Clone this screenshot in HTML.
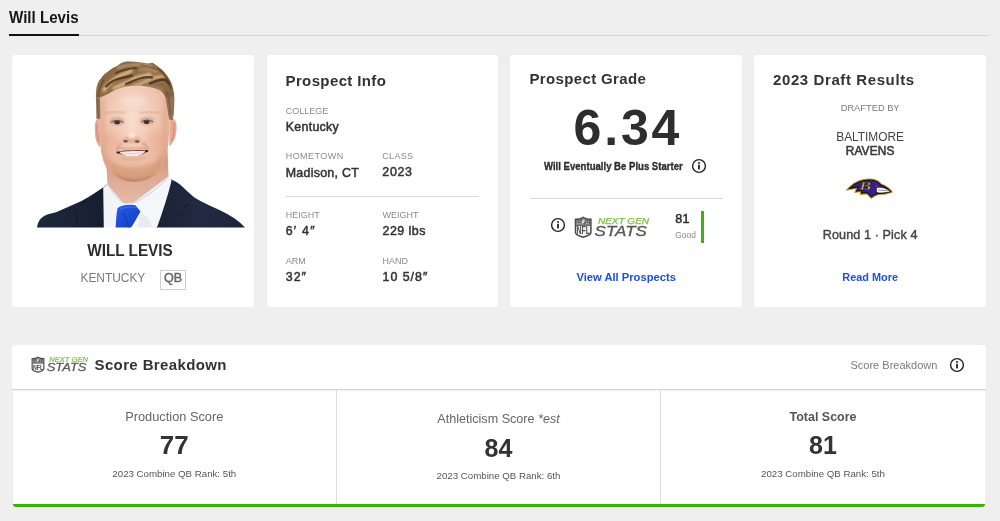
<!DOCTYPE html>
<html><head><meta charset="utf-8">
<style>
*{margin:0;padding:0;box-sizing:border-box}
html,body{width:1000px;height:521px;overflow:hidden}
body{background:#efefef;font-family:"Liberation Sans",Arial,sans-serif;color:#333;position:relative}
.a{position:absolute;white-space:nowrap;line-height:1}
.card{position:absolute;background:#fff;border-radius:3px}
.b{font-weight:bold}
.lbl{font-size:9px;color:#8a8a8a;letter-spacing:0}
.val{font-size:12.4px;font-weight:normal;color:#333;-webkit-text-stroke:.5px #333;letter-spacing:.3px}
.ttl{font-size:15px;font-weight:bold;color:#333;letter-spacing:.3px}
.blue{color:#1f4fdc;font-weight:bold;font-size:11px}
.c{text-align:center}
</style></head><body><div id="wrap" style="position:absolute;left:0;top:0;width:1000px;height:521px;filter:blur(0.3px)">

<!-- header -->
<div class="a b" id="t-title" style="left:9.3px;top:9.1px;font-size:17px;color:#161616;transform:scaleX(0.89);transform-origin:0 0">Will Levis</div>
<div class="a" style="left:9.2px;top:35px;width:980px;height:1px;background:#d2d2d2"></div>
<div class="a" style="left:9.2px;top:33.7px;width:70px;height:2px;background:#121212"></div>

<!-- card 1 -->
<div class="card" style="left:12.3px;top:55px;width:241.8px;height:252px"></div>
<div class="a b" id="t-name" style="left:-2.6px;top:242.2px;width:266px;text-align:center;font-size:16.2px;color:#2e2e2e;transform:scaleX(0.945)">WILL LEVIS</div>
<div class="a" id="t-ky" style="left:80.5px;top:273px;font-size:11.9px;color:#7a7a7a">KENTUCKY</div>
<div class="a" style="left:160px;top:269.5px;width:26px;height:20px;border:1px solid #cfcfcf"></div>
<div class="a b" id="t-qb" style="left:160px;top:272.4px;width:26px;text-align:center;font-size:12.6px;color:#666;font-weight:normal;-webkit-text-stroke:.45px #666">QB</div>


<!-- photo -->
<svg class="a" style="left:0;top:0" width="266" height="240" viewBox="0 0 266 240">
<defs>
<filter id="b04" x="-20%" y="-20%" width="140%" height="140%"><feGaussianBlur stdDeviation="0.4"/></filter>
<filter id="b08" x="-30%" y="-30%" width="160%" height="160%"><feGaussianBlur stdDeviation="0.8"/></filter>
<filter id="b2" x="-50%" y="-50%" width="200%" height="200%"><feGaussianBlur stdDeviation="2.2"/></filter>
<filter id="b4" x="-50%" y="-50%" width="200%" height="200%"><feGaussianBlur stdDeviation="4"/></filter>
<linearGradient id="gsuitL" x1="0" y1="0" x2="1" y2="0">
<stop offset="0" stop-color="#20283d"/><stop offset="1" stop-color="#161d2f"/></linearGradient>
<linearGradient id="gsuitR" x1="0" y1="0" x2="1" y2="0">
<stop offset="0" stop-color="#1a2236"/><stop offset="0.5" stop-color="#212a42"/><stop offset="1" stop-color="#1d253b"/></linearGradient>
<radialGradient id="gface" cx="0.48" cy="0.33" r="0.65">
<stop offset="0" stop-color="#f8dccd"/><stop offset="0.45" stop-color="#f2cbb7"/><stop offset="0.8" stop-color="#ebb9a0"/><stop offset="1" stop-color="#e0a78c"/></radialGradient>
<linearGradient id="ghair" x1="0" y1="0" x2="0.3" y2="1">
<stop offset="0" stop-color="#82603f"/><stop offset="0.45" stop-color="#93704b"/><stop offset="1" stop-color="#7a5a3b"/></linearGradient>
<linearGradient id="gneck" x1="0" y1="0" x2="0" y2="1">
<stop offset="0" stop-color="#c99078"/><stop offset="0.5" stop-color="#dea993"/><stop offset="1" stop-color="#e8baa5"/></linearGradient>
<linearGradient id="gtie" x1="0" y1="0" x2="1" y2="1">
<stop offset="0" stop-color="#2a5fe8"/><stop offset="0.5" stop-color="#1b4cd6"/><stop offset="1" stop-color="#1440b8"/></linearGradient>
<clipPath id="cface"><path d="M99,95 C98.8,110 99.5,135 101,150 C102.5,160 105.5,168 110.5,173.5 C116.5,179.2 125,182 133,182 C142,182 151,179 157,174 C162,169 165,161.5 167,153 C169.5,138 170.3,115 168,95 C160,86 146,84 133,84 C118,84 106,87 99,95 Z"/></clipPath>
<clipPath id="chair"><path d="M96.3,104 C95.5,95 96,88 97.2,85 C98.5,81 100,79 100.8,78.7 C103,75 105,73.5 108,71.5 C111,69 114,67.5 117,66.1 C120,64 122,62.5 124.2,62.1 C126.5,61.6 128.5,61.5 130.5,61.6 C136,61.8 142,62.5 147.6,63.4 L153,62.8 C155,64.5 157,65.5 158.4,67 C160.5,68.5 162.5,70 163.8,71.5 C166,74 167.8,76.5 169.2,78.7 C171,81.5 172.2,84.5 172.8,87.7 C173.6,91 174.2,93.5 174.2,95.8 C174.5,104 174,112 172.8,120 L169.3,119.6 C168,112 167.2,106 166.5,103 C166,99 165.5,97.5 164.7,95.8 C163.5,93 162,91.5 160.2,90.4 C157.5,89 155.5,88.2 153,87.7 C150,86.8 147,86.1 144,85.9 C141,85.6 138,85.5 135,85.5 C132,85.6 129,85.9 126,86.4 C123,87 120,87.8 117,89 C114,90.5 111,92 108,94 C105,95.5 102,96.5 100,97.6 L100.2,118.8 L96.6,118.8 Z"/></clipPath>
</defs>
<!-- suit -->
<path d="M37,227.5 C38,221 41,216.5 48,214.2 L56,212.3 L81.5,201 C92,195 100,190 107.2,184.2 L108.5,187 L104,227.5 Z" fill="url(#gsuitL)"/>
<path d="M170.3,179 C174,180.5 177.5,182.5 180,184.6 C185,189 189,193 194,197.2 C203,203 213,207 222,211.2 C231,215.5 239,221 245,227.5 L156.2,227.5 C160,215 166,197 170.3,179 Z" fill="url(#gsuitR)"/>
<path d="M81,204 L86,201.5" stroke="#0e1320" stroke-width="1" opacity="0.8"/>
<path d="M184,207 L189,204.5" stroke="#0e1320" stroke-width="1" opacity="0.8"/>
<path d="M76.5,213 L77,227" stroke="#0f1422" stroke-width="1" opacity="0.6"/>
<path d="M178,218 L185,213" stroke="#0f1422" stroke-width="0.8" opacity="0.6"/>
<!-- neck -->
<path d="M106,158 L107.5,185 L124,203.8 L133.4,203 L168.5,177.5 L167.5,150 Z" fill="url(#gneck)"/>
<!-- shirt -->
<path d="M103.2,187.5 L107.5,184.2 C112,191 118,198 124,203.8 L118.5,209.5 L116,227.5 L103.8,227.5 Z" fill="#f3f4f8"/>
<path d="M107.5,185.5 C112,192 117,198 123,203.5" stroke="#d9dbe4" stroke-width="1.2" fill="none"/>
<path d="M168.2,176.5 L171.6,180.5 C168,195 163,211 157,227.5 L131,227.5 L139.5,212.5 L133.4,203 Z" fill="#f5f6fa"/>
<path d="M167.5,178 C158,188 146,197 134,203" stroke="#dadce6" stroke-width="1.2" fill="none"/>
<path d="M140,213 C145,214 150,219 152,227.5 L138,227.5 Z" fill="#e3e5ee" opacity="0.7"/>
<!-- tie -->
<path d="M117.5,208.2 C121,205.5 127,204 135.3,205.3 L140.5,211.5 C137,218 134,223 131.2,227.5 L115.6,227.5 C116,220 116.5,213 117.5,208.2 Z" fill="url(#gtie)"/>
<path d="M120,209 C125,207 131,206.5 136,207.5" stroke="#4a7cf5" stroke-width="1" fill="none" opacity="0.7"/>
<path d="M123,212 L129,227.5" stroke="#1236a0" stroke-width="1.2" opacity="0.6"/>
<!-- ears -->
<path d="M99.5,119 C96,118 94.5,122 94.8,130 C95,138 96.5,145 100.5,147.5 Z" fill="#e6ab92"/>
<path d="M169.5,119 C173.5,117.5 176.8,120 176.6,128 C176.4,136 174,143 169.2,146.5 Z" fill="#e6ab92"/>
<path d="M97,124 C96.5,130 97,137 99,142" stroke="#c98a72" stroke-width="1" fill="none" filter="url(#b04)"/>
<path d="M174,123 C174.5,129 174,136 171.5,141" stroke="#c98a72" stroke-width="1" fill="none" filter="url(#b04)"/>
<!-- face -->
<path d="M99,95 C98.8,110 99.5,135 101,150 C102.5,160 105.5,168 110.5,173.5 C116.5,179.2 125,182 133,182 C142,182 151,179 157,174 C162,169 165,161.5 167,153 C169.5,138 170.3,115 168,95 C160,86 146,84 133,84 C118,84 106,87 99,95 Z" fill="url(#gface)"/>
<g clip-path="url(#cface)">
<!-- cheeks warm -->
<ellipse cx="110" cy="141" rx="10" ry="10" fill="#e8a28a" opacity="0.45" filter="url(#b4)"/>
<ellipse cx="157" cy="140" rx="10" ry="10" fill="#e8a28a" opacity="0.45" filter="url(#b4)"/>
<!-- side shading -->
<path d="M99,100 L104,100 L106,150 L112,172 L100,165 Z" fill="#dca08a" opacity="0.5" filter="url(#b2)"/>
<path d="M168,100 L163,100 L161,150 L156,172 L168,160 Z" fill="#dca08a" opacity="0.5" filter="url(#b2)"/>
<!-- stubble -->
<path d="M103,150 C106,162 112,171 120,177 C125,180.5 129,182 133,182 C140,182 148,179 155,174.5 C161,169 164,161 166,151 C161,159 156,163 150,165.5 C145,167 140,167.5 133,167.5 C126,167.5 120,166.5 114,164 C109,161 105,156 103,150 Z" fill="#cf9670" opacity="0.6" filter="url(#b2)"/>
<path d="M112,171 C120,180 128,183 134,183 C142,183 150,179 157,173 C149,177 141,179 134,179 C126,179 119,176 112,171 Z" fill="#b07a58" opacity="0.6" filter="url(#b08)"/>
<!-- forehead highlight -->
<ellipse cx="133" cy="101" rx="14" ry="6" fill="#fbe7dd" opacity="0.45" filter="url(#b2)"/>
<!-- brows -->
<path d="M104.5,113.8 C110,111.4 118,111.2 124.2,112.8" stroke="#d8a68a" stroke-width="2.6" fill="none" stroke-linecap="round" opacity="0.55" filter="url(#b08)"/>
<path d="M140.4,112.8 C147,111.2 154,111.5 160.2,113.4" stroke="#d8a68a" stroke-width="2.6" fill="none" stroke-linecap="round" opacity="0.55" filter="url(#b08)"/>
<!-- eye sockets -->
<ellipse cx="117" cy="121.3" rx="7.5" ry="4" fill="#d29a84" opacity="0.7" filter="url(#b08)"/>
<ellipse cx="147" cy="120.8" rx="7.5" ry="4" fill="#d29a84" opacity="0.7" filter="url(#b08)"/>
<!-- eyes -->
<g filter="url(#b04)">
<path d="M111,122.6 C113,120.6 120,120.2 123.4,122.6 C120,124.3 114,124.4 111,122.6 Z" fill="#b9a6a4"/>
<path d="M141.3,122.2 C144,120.2 150,120.2 153,122 C150,123.8 144.5,124 141.3,122.2 Z" fill="#b9a6a4"/>
<ellipse cx="117.2" cy="122.3" rx="2.8" ry="2.1" fill="#2f3646"/>
<ellipse cx="146.6" cy="121.9" rx="2.8" ry="2.1" fill="#2f3646"/>
<path d="M110.8,122.4 C113,120.2 120,119.8 123.4,122.4" stroke="#6a4a44" stroke-width="1" fill="none"/>
<path d="M141.3,122 C144,119.6 150,119.6 153,121.8" stroke="#6a4a44" stroke-width="1" fill="none"/>
</g>
<!-- nose -->
<ellipse cx="131.8" cy="126" rx="3.2" ry="9" fill="#fbe6dc" opacity="0.45" filter="url(#b2)"/>
<ellipse cx="131.5" cy="139.8" rx="9" ry="3.2" fill="#cf8f74" opacity="0.55" filter="url(#b08)"/>
<ellipse cx="131.6" cy="136" rx="3.6" ry="2.8" fill="#fde9e0" opacity="0.85" filter="url(#b08)"/>
<ellipse cx="125.5" cy="141.2" rx="2.4" ry="1.3" fill="#6e3c30" opacity="0.85" filter="url(#b04)"/>
<ellipse cx="137.3" cy="141.5" rx="2.4" ry="1.3" fill="#6e3c30" opacity="0.85" filter="url(#b04)"/>
<path d="M121,143 C118.5,146 117,149 116.5,152" stroke="#c9886f" stroke-width="1.8" fill="none" opacity="0.7" filter="url(#b08)"/>
<path d="M142.5,142.5 C145.5,145 147.5,148 148.3,151" stroke="#c9886f" stroke-width="1.8" fill="none" opacity="0.7" filter="url(#b08)"/>
<!-- mouth -->
<path d="M119,148.8 C125,147.6 139,147.4 145.5,148.4" stroke="#cf8f80" stroke-width="2.2" fill="none" opacity="0.6" filter="url(#b08)"/>
<g filter="url(#b04)">
<path d="M116.8,152.6 C121,150.3 127,150.1 132,150.2 C138,150 143.5,149.6 147.6,150.8 C145,154.2 140,156.3 132.5,156.4 C125.5,156.4 120.4,155 116.8,152.6 Z" fill="#8a4238"/>
<path d="M119.2,152.3 C124.5,151 138,150.8 145.6,151.2 C142.8,154.6 138.5,156.5 132.5,156.6 C126.8,156.6 122.4,155.2 119.2,152.3 Z" fill="#f3ece8"/>
<path d="M120.5,152.5 C125,154.2 139.5,154.2 144.5,151.6" stroke="#d5c6c2" stroke-width=".7" fill="none"/>
<ellipse cx="118.2" cy="152.5" rx="1.8" ry="1.1" fill="#3e1f1a"/>
<ellipse cx="146.6" cy="151.1" rx="1.8" ry="1.1" fill="#3e1f1a"/>
</g>
<path d="M120.5,157.6 C126,160.2 139,160.2 144.5,157" stroke="#e0a092" stroke-width="2.6" fill="none" opacity="0.6" filter="url(#b08)"/>
</g>
<!-- hair -->
<path d="M96.3,104 C95.5,95 96,88 97.2,85 C98.5,81 100,79 100.8,78.7 C103,75 105,73.5 108,71.5 C111,69 114,67.5 117,66.1 C120,64 122,62.5 124.2,62.1 C126.5,61.6 128.5,61.5 130.5,61.6 C136,61.8 142,62.5 147.6,63.4 L153,62.8 C155,64.5 157,65.5 158.4,67 C160.5,68.5 162.5,70 163.8,71.5 C166,74 167.8,76.5 169.2,78.7 C171,81.5 172.2,84.5 172.8,87.7 C173.6,91 174.2,93.5 174.2,95.8 C174.5,104 174,112 172.8,120 L169.3,119.6 C168,112 167.2,106 166.5,103 C166,99 165.5,97.5 164.7,95.8 C163.5,93 162,91.5 160.2,90.4 C157.5,89 155.5,88.2 153,87.7 C150,86.8 147,86.1 144,85.9 C141,85.6 138,85.5 135,85.5 C132,85.6 129,85.9 126,86.4 C123,87 120,87.8 117,89 C114,90.5 111,92 108,94 C105,95.5 102,96.5 100,97.6 L100.2,118.8 L96.6,118.8 Z" fill="url(#ghair)"/>
<g clip-path="url(#chair)">
<!-- sideburn shading -->
<path d="M95,98 L101,96 L101,120 L95,120 Z" fill="#9a7c5e" opacity="0.8" filter="url(#b08)"/>
<path d="M165,98 L175,96 L175,121 L168,121 Z" fill="#9a7c5e" opacity="0.7" filter="url(#b08)"/>
<!-- hair strands light -->
<g fill="none" stroke-linecap="round" filter="url(#b08)">
<path d="M104,90 C108,84 113,79.5 118,77 C123,74.5 127,73 131,71" stroke="#dbb788" stroke-width="3.6" opacity="0.95"/>
<path d="M114,88 C120,86 126,83 132,80 C138,77 144,75.5 150,74.5" stroke="#dcba8c" stroke-width="3.4" opacity="0.95"/>
<path d="M134,86 C140,84 146,81 152,78.5 C156,77 160,76.5 163,77" stroke="#d6b386" stroke-width="3" opacity="0.9"/>
<path d="M118,68 C124,65.5 131,64.5 138,64.5 C143,64.5 147,65 151,66" stroke="#caa77c" stroke-width="2.6" opacity="0.75"/>
<path d="M140,70 C146,69 152,69.5 157,71.5" stroke="#c9a67c" stroke-width="2.2" opacity="0.7"/>
<path d="M147,86.5 C153,86.5 158,87.5 162,90" stroke="#c4a07a" stroke-width="2" opacity="0.6"/>
</g>
<!-- hair strands dark -->
<g fill="none" stroke-linecap="round" filter="url(#b04)">
<path d="M106,86.5 C110,82 116,79 122,77.8 C126,77 129,76.5 132,75.5" stroke="#4a3019" stroke-width="2.3" opacity="0.85"/>
<path d="M126,84 C131,82 136,79.5 141,78 C145,77 149,77 152,77.5" stroke="#4a3019" stroke-width="2.3" opacity="0.85"/>
<path d="M150,83.5 C154,81.5 158,80 162,79.5 C165,79.5 167.5,81 169,84" stroke="#4a3019" stroke-width="2.4" opacity="0.85"/>
<path d="M116,73 C122,70 129,68.5 136,68" stroke="#4e341d" stroke-width="2" opacity="0.75"/>
<path d="M98.5,96 C99,89 101,84 104,80" stroke="#5a3d24" stroke-width="1.8" opacity="0.6"/>
<path d="M158,68.5 C164,72.5 168.5,79 171,88" stroke="#563a22" stroke-width="2.2" opacity="0.6"/>
<path d="M141,64.8 C146,65.5 151,67 156,69.5" stroke="#5e4129" stroke-width="1.3" opacity="0.5"/>
<path d="M167,92 C169,99 170,106 170.5,114" stroke="#5e4630" stroke-width="1.6" opacity="0.45"/>
<path d="M97.5,100 C97.5,106 98,112 98.5,117" stroke="#5e4630" stroke-width="1.4" opacity="0.45"/>
</g>
</g>
</svg>

<!-- card 2 -->
<div class="card" style="left:267px;top:55px;width:230.5px;height:252px"></div>
<div class="a ttl" id="t-pi" style="left:285.5px;top:72.9px;letter-spacing:.38px">Prospect Info</div>
<div class="a lbl" id="t-col" style="left:285.7px;top:106.5px">COLLEGE</div>
<div class="a val" id="t-ken" style="left:285.7px;top:120.7px">Kentucky</div>
<div class="a lbl" style="left:285.7px;top:152.3px;letter-spacing:.45px">HOMETOWN</div>
<div class="a lbl" style="left:382.3px;top:152.3px;letter-spacing:.3px">CLASS</div>
<div class="a val" id="t-mad" style="left:285.7px;top:166.6px;letter-spacing:.28px">Madison, CT</div>
<div class="a val" style="left:382.3px;top:166.4px;letter-spacing:.7px">2023</div>
<div class="a" style="left:285.7px;top:196px;width:193.5px;height:1px;background:#d8d8d8"></div>
<div class="a lbl" style="left:285.7px;top:211px">HEIGHT</div>
<div class="a lbl" style="left:382.5px;top:211px">WEIGHT</div>
<div class="a val" style="left:285.7px;top:225.2px;letter-spacing:1.25px">6′ 4″</div>
<div class="a val" style="left:382.5px;top:225.2px;letter-spacing:.5px">229 lbs</div>
<div class="a lbl" style="left:285.7px;top:256.5px">ARM</div>
<div class="a lbl" style="left:382.5px;top:256.5px">HAND</div>
<div class="a val" style="left:285.7px;top:270.9px;letter-spacing:1.05px">32″</div>
<div class="a val" style="left:382.5px;top:270.9px;letter-spacing:1px">10 5/8″</div>

<!-- card 3 -->
<div class="card" style="left:510.3px;top:55px;width:231.7px;height:252px"></div>
<div class="a ttl" id="t-pg" style="left:529.5px;top:71.2px;letter-spacing:.36px">Prospect Grade</div>
<div class="a b" id="t-grade" style="left:573.6px;top:102.6px;font-size:50px;color:#2e2e2e;letter-spacing:2.8px">6.34</div>
<svg class="a" style="left:690.8px;top:158.1px" width="16" height="16" viewBox="0 0 16 16">
<circle cx="8" cy="8" r="6.4" fill="none" stroke="#222" stroke-width="1.4"/>
<circle cx="8" cy="5" r="1" fill="#222"/><rect x="7.1" y="6.8" width="1.8" height="4.6" fill="#222"/></svg>
<div class="a b" id="t-wep" style="left:544px;top:161px;font-size:11px;color:#2e2e2e;transform:scaleX(0.87);transform-origin:0 0;-webkit-text-stroke:.35px #2e2e2e">Will Eventually Be Plus Starter</div>
<div class="a" style="left:530px;top:198px;width:193px;height:1px;background:#d8d8d8"></div>
<svg class="a" style="left:549.7px;top:216.9px" width="16" height="16" viewBox="0 0 16 16">
<circle cx="8" cy="8" r="6.4" fill="none" stroke="#222" stroke-width="1.4"/>
<circle cx="8" cy="5" r="1" fill="#222"/><rect x="7.1" y="6.8" width="1.8" height="4.6" fill="#222"/></svg>
<svg class="a" style="left:574.3px;top:215.6px;overflow:visible" width="76.0" height="23.0" viewBox="0 0 76 23">
<path d="M1.5,3.3 Q5,3.6 7.6,2.2 L9.1,1.4 L10.6,2.2 Q13.2,3.6 16.9,3.3 L16.9,16.6 Q16.9,19.2 9.1,21.2 Q1.5,19.2 1.5,16.6 Z" fill="#f2f2f2" stroke="#4a4a4a" stroke-width="1.5"/>
<path d="M2.3,3.9 Q5,4.2 7.6,2.9 L9.1,2.2 L10.6,2.9 Q13.2,4.2 16.1,3.9 L16.1,8.8 L2.3,8.8 Z" fill="#5c5c5c"/>
<g fill="#e8e8e8"><circle cx="3.9" cy="5.3" r=".55"/><circle cx="5.9" cy="5.3" r=".55"/><circle cx="3.9" cy="7.4" r=".55"/><circle cx="5.9" cy="7.4" r=".55"/><circle cx="12.3" cy="5.3" r=".55"/><circle cx="14.3" cy="5.3" r=".55"/><circle cx="12.3" cy="7.4" r=".55"/><circle cx="14.3" cy="7.4" r=".55"/></g>
<ellipse cx="9.1" cy="5.6" rx="1.6" ry="2.7" fill="#d6d6d6" stroke="#5c5c5c" stroke-width=".4" transform="rotate(28 9.1 5.6)"/>
<rect x="1.8" y="9.1" width="14.8" height=".8" fill="#4a4a4a"/>
<text x="2.5" y="18" font-family="Liberation Sans" font-weight="bold" font-size="10.6" fill="#505050" textLength="13.4" lengthAdjust="spacingAndGlyphs">NFL</text>
<text x="24" y="8" font-family="Liberation Sans" font-style="italic" font-size="8.3" fill="#7cc242" stroke="#7cc242" stroke-width=".25" textLength="51" lengthAdjust="spacingAndGlyphs">NEXT GEN</text>
<text x="20.6" y="19.9" font-family="Liberation Sans" font-style="italic" font-size="14.4" fill="#5a5a5a" stroke="#5a5a5a" stroke-width=".35" textLength="52.3" lengthAdjust="spacingAndGlyphs">STATS</text>
</svg>
<div class="a" id="t-81" style="left:675.3px;top:212.5px;font-size:12.6px;color:#2e2e2e;-webkit-text-stroke:.5px #2e2e2e;letter-spacing:.3px">81</div>
<div class="a" id="t-good" style="left:675.3px;top:231.2px;font-size:8.4px;color:#8a8a8a">Good</div>
<div class="a" style="left:700.8px;top:211px;width:3px;height:31.5px;background:#3cb014"></div>
<div class="a blue" id="t-vap" style="left:510.3px;width:231.7px;text-align:center;top:271.9px;font-size:11.2px">View All Prospects</div>

<!-- card 4 -->
<div class="card" style="left:754.2px;top:55px;width:231.9px;height:252px"></div>
<div class="a ttl" id="t-dr" style="left:773px;top:71.7px;letter-spacing:.6px">2023 Draft Results</div>
<div class="a c" id="t-dby" style="left:754.2px;width:231.9px;top:104.2px;font-size:9.3px;color:#7a7a7a">DRAFTED BY</div>
<div class="a c" id="t-bal" style="left:754.2px;width:231.9px;top:131.6px;font-size:11.9px;color:#444">BALTIMORE</div>
<div class="a c" id="t-rav" style="left:754.2px;width:231.9px;top:145.6px;font-size:11.9px;color:#3a3a3a;-webkit-text-stroke:.55px #3a3a3a;letter-spacing:.15px">RAVENS</div>
<svg class="a" style="left:845px;top:175px" width="52" height="27" viewBox="845 175 52 27">
<path d="M849.6,188.4 C852.2,185.6 855.6,183.1 859.6,181.7 C864,180.1 869,179.7 872.8,180.3 C876.4,180.9 879,182.6 880.8,185.1 C884.8,186.5 888.2,188.7 890.6,191.6 C887,193.1 883,193.5 878.2,193.4 L875.4,194.5 L871.4,196.9 L867.2,192.6 L861.6,193.2 L861.9,190.4 L856.6,191 L858.4,186.9 Z" fill="#b8921e" stroke="#b8921e" stroke-width="3.2" stroke-linejoin="miter" stroke-miterlimit="6"/>
<path d="M849.6,188.4 C852.2,185.6 855.6,183.1 859.6,181.7 C864,180.1 869,179.7 872.8,180.3 C876.4,180.9 879,182.6 880.8,185.1 C884.8,186.5 888.2,188.7 890.6,191.6 C887,193.1 883,193.5 878.2,193.4 L875.4,194.5 L871.4,196.9 L867.2,192.6 L861.6,193.2 L861.9,190.4 L856.6,191 L858.4,186.9 Z" fill="#33218a" stroke="#121018" stroke-width="1.1" stroke-linejoin="miter" stroke-miterlimit="6"/>
<path d="M877.2,187.3 C882.5,186.8 887.2,188.6 890.4,191.6 C886.6,193 882,193.2 877.4,192.8 C876,191.2 875.8,188.8 877.2,187.3 Z" fill="#fff" stroke="#121018" stroke-width=".7"/>
<path d="M878,189.8 L887.8,190.9" stroke="#666" stroke-width=".7"/>
<circle cx="876.7" cy="185.9" r="0.9" fill="#c8202a"/>
<text x="859.2" y="190.2" font-family="Liberation Serif" font-style="italic" font-weight="bold" font-size="12.5" fill="#c9a231" stroke="#111" stroke-width=".35" textLength="12" lengthAdjust="spacingAndGlyphs">B</text>
</svg>
<div class="a c" id="t-rnd" style="left:754.2px;width:231.9px;top:229.1px;font-size:12.6px;color:#444;-webkit-text-stroke:.4px #444;letter-spacing:.1px">Round 1 · Pick 4</div>
<div class="a c blue" id="t-rm" style="left:754.2px;width:231.9px;top:271.9px;font-size:10.9px">Read More</div>

<!-- score breakdown -->
<div class="card" style="left:12.3px;top:345.4px;width:973.8px;height:44px;border-radius:3px 3px 0 0"></div>
<div class="card" style="left:13px;top:389px;width:972.2px;height:118px;border-radius:0 0 3px 3px"></div>
<div class="a" style="left:12.3px;top:389px;width:973.8px;height:1px;background:#d4d4d4;box-shadow:0 1px 1.5px rgba(0,0,0,0.07)"></div>
<div class="a" style="left:336px;top:390px;width:1px;height:114px;background:#dcdcdc"></div>
<div class="a" style="left:660px;top:390px;width:1px;height:114px;background:#dcdcdc"></div>
<div class="a" style="left:13px;top:503.5px;width:972.2px;height:3.4px;background:#3cb00c;border-radius:0 0 3px 3px"></div>
<svg class="a" style="left:30.8px;top:356.2px;overflow:visible" width="57.8" height="17.5" viewBox="0 0 76 23">
<path d="M1.5,3.3 Q5,3.6 7.6,2.2 L9.1,1.4 L10.6,2.2 Q13.2,3.6 16.9,3.3 L16.9,16.6 Q16.9,19.2 9.1,21.2 Q1.5,19.2 1.5,16.6 Z" fill="#f2f2f2" stroke="#4a4a4a" stroke-width="1.5"/>
<path d="M2.3,3.9 Q5,4.2 7.6,2.9 L9.1,2.2 L10.6,2.9 Q13.2,4.2 16.1,3.9 L16.1,8.8 L2.3,8.8 Z" fill="#5c5c5c"/>
<g fill="#e8e8e8"><circle cx="3.9" cy="5.3" r=".55"/><circle cx="5.9" cy="5.3" r=".55"/><circle cx="3.9" cy="7.4" r=".55"/><circle cx="5.9" cy="7.4" r=".55"/><circle cx="12.3" cy="5.3" r=".55"/><circle cx="14.3" cy="5.3" r=".55"/><circle cx="12.3" cy="7.4" r=".55"/><circle cx="14.3" cy="7.4" r=".55"/></g>
<ellipse cx="9.1" cy="5.6" rx="1.6" ry="2.7" fill="#d6d6d6" stroke="#5c5c5c" stroke-width=".4" transform="rotate(28 9.1 5.6)"/>
<rect x="1.8" y="9.1" width="14.8" height=".8" fill="#4a4a4a"/>
<text x="2.5" y="18" font-family="Liberation Sans" font-weight="bold" font-size="10.6" fill="#505050" textLength="13.4" lengthAdjust="spacingAndGlyphs">NFL</text>
<text x="24" y="8" font-family="Liberation Sans" font-style="italic" font-size="8.3" fill="#7cc242" stroke="#7cc242" stroke-width=".25" textLength="51" lengthAdjust="spacingAndGlyphs">NEXT GEN</text>
<text x="20.6" y="19.9" font-family="Liberation Sans" font-style="italic" font-size="14.4" fill="#5a5a5a" stroke="#5a5a5a" stroke-width=".35" textLength="52.3" lengthAdjust="spacingAndGlyphs">STATS</text>
</svg>
<div class="a ttl" id="t-sb" style="left:94.5px;top:357.4px;letter-spacing:.38px">Score Breakdown</div>
<div class="a" id="t-sb2" style="left:850.5px;top:359.5px;font-size:11px;color:#7a7a7a">Score Breakdown</div>

<svg class="a" style="left:948.8px;top:357.1px" width="16" height="16" viewBox="0 0 16 16">
<circle cx="8" cy="8" r="6.4" fill="none" stroke="#222" stroke-width="1.4"/>
<circle cx="8" cy="5" r="1" fill="#222"/><rect x="7.1" y="6.8" width="1.8" height="4.6" fill="#222"/></svg>
<div class="a c" id="t-ps" style="left:12.3px;width:324px;top:411.1px;font-size:12.8px;color:#666">Production Score</div>
<div class="a c b" id="t-77" style="left:12.3px;width:324px;top:432.2px;font-size:26px;color:#333">77</div>
<div class="a c" id="t-r1" style="left:12.3px;width:324px;top:469px;font-size:9.7px;color:#555">2023 Combine QB Rank: 5th</div>

<div class="a c" id="t-as" style="left:336.5px;width:324px;top:413.3px;font-size:12.6px;color:#666">Athleticism Score <i>*est</i></div>
<div class="a c b" id="t-84" style="left:336.5px;width:324px;top:436px;font-size:25px;color:#333">84</div>
<div class="a c" id="t-r2" style="left:336.5px;width:324px;top:471px;font-size:9.7px;color:#555">2023 Combine QB Rank: 6th</div>

<div class="a c b" id="t-ts" style="left:660.5px;width:325px;top:411.1px;font-size:12.5px;color:#555">Total Score</div>
<div class="a c b" id="t-81b" style="left:660.5px;width:325px;top:433.1px;font-size:25px;color:#333">81</div>
<div class="a c" id="t-r3" style="left:660.5px;width:325px;top:469px;font-size:9.7px;color:#555">2023 Combine QB Rank: 5th</div>

</div></body></html>
